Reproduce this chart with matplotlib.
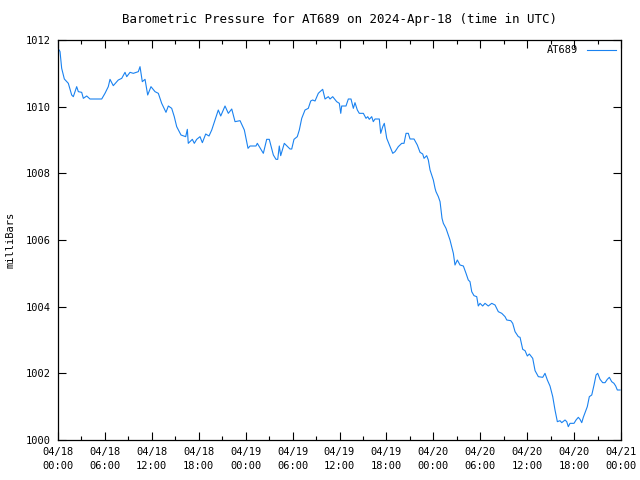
import matplotlib.pyplot as plt
from matplotlib.ticker import MultipleLocator

# hours since 2024-04-18 00:00 UTC and pressure (mb)
hours = [0.15, 0.26, 0.47, 0.81, 1.32, 1.75, 1.96, 2.39, 2.60, 3.03, 3.24, 3.67, 4.09,
         5.59, 6.01, 6.43, 6.65, 7.07, 7.71, 8.15, 8.57, 8.79, 9.21, 9.63, 10.27, 10.49,
         10.78, 11.13, 11.47, 11.89, 12.41, 12.83, 13.26, 13.81, 14.11, 14.54, 14.87,
         15.18, 15.73, 16.33, 16.54, 16.66, 17.18, 17.43, 17.74, 18.16, 18.46, 18.89,
         19.31, 19.66, 20.08, 20.50, 20.81, 21.36, 21.78, 22.22, 22.64, 23.28, 23.83,
         24.30, 24.56, 25.32, 25.49, 26.26, 26.69, 27.02, 27.54, 27.88, 28.10, 28.30,
         28.48, 28.94, 29.67, 29.89, 30.18, 30.60, 30.86, 31.17, 31.59, 32.01, 32.32,
         32.57, 32.87, 33.29, 33.51, 33.85, 34.15, 34.57, 34.79, 35.13, 35.64, 35.98,
         36.16, 36.28, 36.83, 37.13, 37.47, 37.77, 37.98, 38.28, 38.53, 39.05, 39.39,
         39.61, 39.81, 40.12, 40.32, 40.54, 41.09, 41.27, 41.53, 41.73, 42.04, 42.46,
         42.81, 43.10, 43.52, 43.96, 44.25, 44.51, 44.80, 45.02, 45.53, 45.95, 46.30,
         46.64, 46.81, 47.15, 47.36, 47.58, 48.00, 48.22, 48.34, 48.64, 48.86, 48.98,
         49.11, 49.28, 49.62, 49.92, 50.13, 50.35, 50.56, 50.77, 51.07, 51.41, 51.84,
         52.18, 52.47, 52.69, 52.91, 53.20, 53.55, 53.75, 53.97, 54.31, 54.61, 55.03,
         55.47, 55.89, 56.31, 56.75, 57.17, 57.39, 57.90, 58.15, 58.45, 58.87, 59.09,
         59.43, 59.73, 60.02, 60.28, 60.71, 61.01, 61.43, 61.99, 62.28, 62.58, 62.92,
         63.27, 63.56, 63.86, 64.20, 64.42, 64.84, 65.06, 65.26, 65.48, 65.99, 66.25,
         66.54, 66.76, 66.98, 67.18, 67.40, 67.69, 67.95, 68.26, 68.55, 68.81, 69.02,
         69.32, 69.66, 69.96, 70.25, 70.51, 70.81, 71.10, 71.32, 71.53, 71.88]
pressure = [1011.70, 1011.65, 1011.15, 1010.83, 1010.70, 1010.35, 1010.30, 1010.60, 1010.45,
            1010.43, 1010.25, 1010.32, 1010.23, 1010.23, 1010.40, 1010.60, 1010.82, 1010.63,
            1010.80, 1010.85, 1011.03, 1010.90, 1011.03, 1011.00, 1011.05, 1011.20, 1010.75,
            1010.82, 1010.35, 1010.60, 1010.45, 1010.40, 1010.10, 1009.83, 1010.02, 1009.95,
            1009.70, 1009.40, 1009.15, 1009.10, 1009.32, 1008.90, 1009.02, 1008.90, 1009.02,
            1009.10, 1008.92, 1009.18, 1009.12, 1009.30, 1009.60, 1009.90, 1009.72, 1010.02,
            1009.80, 1009.93, 1009.55, 1009.58, 1009.30, 1008.75, 1008.82, 1008.82, 1008.90,
            1008.60, 1009.02, 1009.02, 1008.55, 1008.42, 1008.42, 1008.82, 1008.53, 1008.90,
            1008.73, 1008.73, 1009.02, 1009.10, 1009.30, 1009.65, 1009.90, 1009.95, 1010.17,
            1010.20, 1010.17, 1010.40, 1010.45, 1010.52, 1010.23, 1010.30, 1010.23, 1010.30,
            1010.15, 1010.10, 1009.80, 1010.02, 1010.02, 1010.23, 1010.23, 1009.95, 1010.12,
            1009.90, 1009.80, 1009.80, 1009.65, 1009.70, 1009.62, 1009.70, 1009.55, 1009.63,
            1009.63, 1009.20, 1009.40, 1009.50, 1009.05, 1008.80, 1008.60, 1008.65, 1008.80,
            1008.90, 1008.90, 1009.20, 1009.20, 1009.03, 1009.03, 1008.85, 1008.63, 1008.58,
            1008.45, 1008.53, 1008.40, 1008.10, 1007.80, 1007.55, 1007.45, 1007.30, 1007.15,
            1006.90, 1006.65, 1006.50, 1006.35, 1006.15, 1006.00, 1005.80, 1005.60, 1005.25,
            1005.40, 1005.25, 1005.22, 1005.00, 1004.80, 1004.75, 1004.45, 1004.33, 1004.30,
            1004.02, 1004.10, 1004.02, 1004.10, 1004.02, 1004.10, 1004.05, 1003.85, 1003.80,
            1003.70, 1003.60, 1003.58, 1003.50, 1003.25, 1003.10, 1003.08, 1002.72, 1002.68,
            1002.52, 1002.58, 1002.45, 1002.08, 1001.90, 1001.88, 1002.00, 1001.80, 1001.62,
            1001.30, 1000.90, 1000.55, 1000.58, 1000.52, 1000.60, 1000.55, 1000.40, 1000.50,
            1000.50, 1000.60, 1000.68, 1000.62, 1000.52, 1000.68, 1000.82, 1001.00, 1001.30,
            1001.35, 1001.65, 1001.95, 1002.00, 1001.82, 1001.72, 1001.72, 1001.82, 1001.88,
            1001.75, 1001.70, 1001.62, 1001.50, 1001.50]

tick_hours = list(range(0, 73, 6))
tick_labels = ['04/18\n00:00', '04/18\n06:00', '04/18\n12:00', '04/18\n18:00',
               '04/19\n00:00', '04/19\n06:00', '04/19\n12:00', '04/19\n18:00',
               '04/20\n00:00', '04/20\n06:00', '04/20\n12:00', '04/20\n18:00',
               '04/21\n00:00']

plt.rcParams['font.family'] = 'DejaVu Sans Mono'
plt.rcParams['font.size'] = 7.5

fig = plt.figure(figsize=(6.4, 4.8), dpi=100)
ax = fig.add_axes([58 / 640, 40 / 480, 563 / 640, 400 / 480])

ax.plot(hours, pressure, color='#1a82f0', linewidth=0.8, label='AT689')

ax.set_xlim(0, 72)
ax.set_ylim(1000, 1012)
ax.set_xticks(tick_hours)
ax.set_xticklabels(tick_labels, linespacing=1.5)
ax.xaxis.set_minor_locator(MultipleLocator(3))
ax.set_yticks(range(1000, 1013, 2))

ax.tick_params(which='both', direction='in', top=True, right=True, width=0.8)
ax.tick_params(which='major', length=6, pad=5)
ax.tick_params(which='minor', length=3)
for s in ax.spines.values():
    s.set_linewidth(0.9)

ax.set_title('Barometric Pressure for AT689 on 2024-Apr-18 (time in UTC)', pad=12)
fig.text(11 / 640, 0.5, 'milliBars', rotation=90, ha='center', va='center')
ax.legend(loc='upper right', frameon=False, markerfirst=False,
          handlelength=2.8, borderaxespad=0.1)

fig.savefig('out.png', dpi=100)
